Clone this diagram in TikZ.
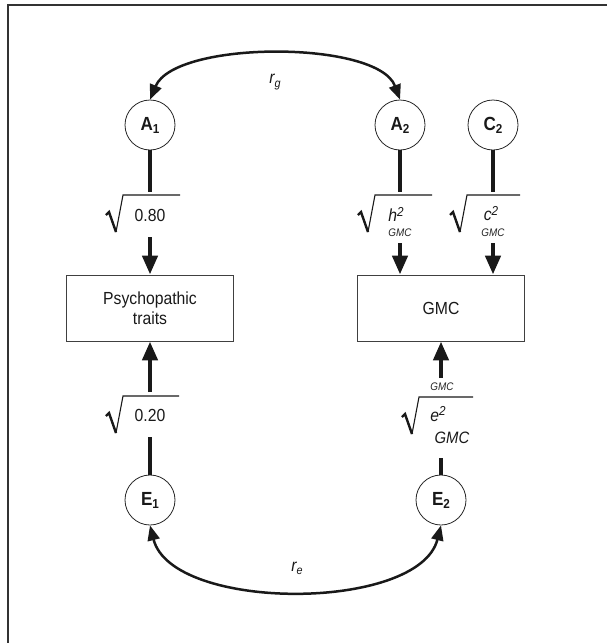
\documentclass[tikz,border=0pt]{standalone}
\usepackage{fontspec}
\setmainfont{Liberation Sans}[FakeStretch=0.9]
\usetikzlibrary{arrows.meta}
\newcommand\myrad[3]{%
  \draw[radthin] (#1+10,#2+37) -- (#1+17,#2) -- (#3,#2);
  \draw[radthick] (#1,#2+20) -- (#1+3,#2+17) -- (#1+10,#2+37);}
\begin{document}
\begin{tikzpicture}[x=1pt,y=-1pt,
  lat/.style={circle,draw=black!85,line width=0.8pt,minimum size=50pt,inner sep=0pt,
    font=\fontsize{19}{19}\selectfont\bfseries,text=black!90},
  obs/.style={draw=black!75,line width=0.9pt,minimum width=167pt,minimum height=66pt,
    align=center,font=\fontsize{17.5}{20}\selectfont,text=black!90},
  stemline/.style={line width=4.5pt,black!90},
  arrowpath/.style={line width=4.5pt,black!90,-{Triangle[width=15pt,length=19pt]}},
  cor/.style={line width=2.5pt,black!90,{Triangle[width=12pt,length=15pt]}-{Triangle[width=12pt,length=15pt]}},
  radthin/.style={line width=1.1pt,black!90,line join=miter},
  radthick/.style={line width=2.4pt,black!90,line join=miter},
  lbl/.style={font=\fontsize{17.5}{17.5}\selectfont,text=black!90,inner sep=0pt},
  sub/.style={font=\fontsize{11}{11}\selectfont\itshape,text=black!85,inner sep=0pt},
  big/.style={font=\fontsize{16.5}{16.5}\selectfont\itshape,text=black!90,inner sep=0pt}
]
\useasboundingbox (0,0) rectangle (607,643);
\draw[black!80,line width=1.5pt] (8,643) -- (8,5) -- (607,5);

% latent variables
\node[lat] (A1) at (150,125) {A\raisebox{-0.3ex}{\fontsize{13}{13}\selectfont 1}};
\node[lat] (A2) at (400,125) {A\raisebox{-0.3ex}{\fontsize{13}{13}\selectfont 2}};
\node[lat] (C2) at (493,125) {C\raisebox{-0.3ex}{\fontsize{13}{13}\selectfont 2}};
\node[lat] (E1) at (150,500) {E\raisebox{-0.3ex}{\fontsize{13}{13}\selectfont 1}};
\node[lat] (E2) at (441,500) {E\raisebox{-0.3ex}{\fontsize{13}{13}\selectfont 2}};

% observed
\node[obs] (P) at (150,308) {Psychopathic\\traits};
\node[obs] (G) at (441,308) {GMC};

% coordinates for path segments
\coordinate (a1s) at (150,192);
\coordinate (a1a) at (150,237);
\coordinate (a2s) at (400,192);
\coordinate (a2a) at (400,243);
\coordinate (c2s) at (493,192);
\coordinate (c2a) at (493,243);
\coordinate (e1s) at (150,437);
\coordinate (e1a) at (150,392);
\coordinate (e2s) at (441,458);
\coordinate (e2a) at (441,378);

\draw[stemline] (A1.south) -- (a1s);
\draw[arrowpath] (a1a) -- (P.north);
\draw[stemline] (A2.south) -- (a2s);
\draw[arrowpath] (a2a) -- (a2a |- G.north);
\draw[stemline] (C2.south) -- (c2s);
\draw[arrowpath] (c2a) -- (c2a |- G.north);
\draw[stemline] (E1.north) -- (e1s);
\draw[arrowpath] (e1a) -- (P.south);
\draw[stemline] (E2.north) -- (e2s);
\draw[arrowpath] (e2a) -- (G.south);

% radicals
\myrad{106}{195}{180}
\myrad{358}{195}{432}
\myrad{450}{195}{520}
\myrad{106}{396}{179}
\myrad{402}{397}{473}

% labels
\node[lbl] (l080) at (150,215) {0.80};
\node[lbl] (lh) at (396,214) {\itshape h\raisebox{0.55ex}{\fontsize{13}{13}\selectfont 2}};
\node[sub] (lhg) at (400,233) {GMC};
\node[lbl] (lc) at (491,214) {\itshape c\raisebox{0.55ex}{\fontsize{13}{13}\selectfont 2}};
\node[sub] (lcg) at (493,233) {GMC};
\node[lbl] (l020) at (150,415) {0.20};
\node[sub] (leg0) at (442,387) {GMC};
\node[lbl] (le) at (438,414) {\itshape e\raisebox{0.55ex}{\fontsize{13}{13}\selectfont 2}};
\node[big] (leg) at (452,438) {GMC};

% correlations
\draw[cor] (A1.north) .. controls (175,40) and (378,40) .. (A2.north);
\draw[cor] (E1.south) .. controls (172,612) and (419,612) .. (E2.south);
\node[lbl] (rg) at (275,82) {\itshape r\raisebox{-0.35ex}{\fontsize{12}{12}\selectfont g}};
\node[lbl] (re) at (297,568) {\itshape r\raisebox{-0.35ex}{\fontsize{12}{12}\selectfont e}};
\end{tikzpicture}
\end{document}
